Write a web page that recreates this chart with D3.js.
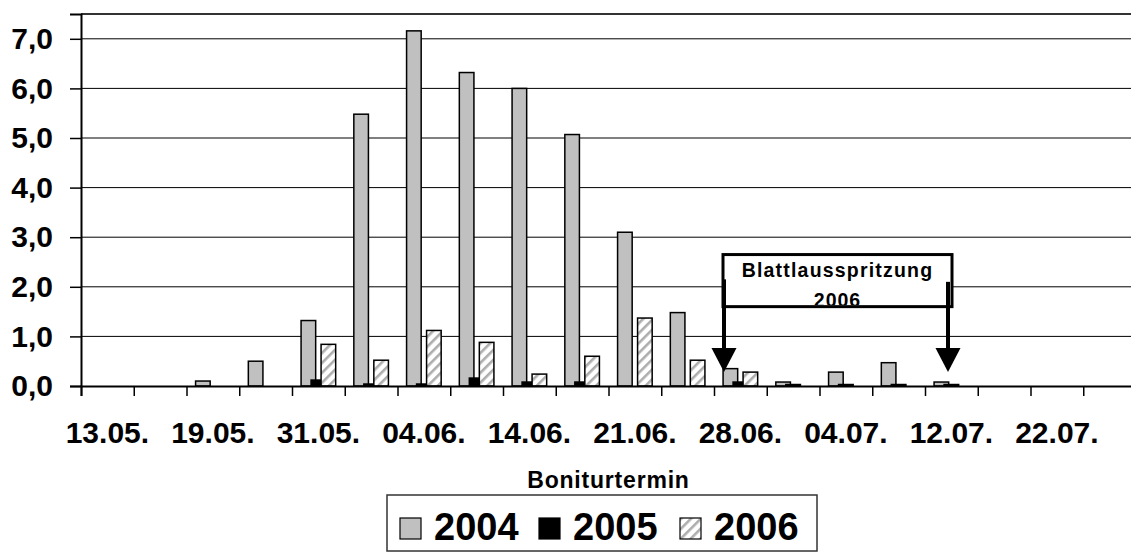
<!DOCTYPE html>
<html>
<head>
<meta charset="utf-8">
<script src="https://cdn.jsdelivr.net/npm/d3@7"></script>
<style>
  body { margin: 0; background: #fff; }
  svg { display: block; font-family: "Liberation Sans", Arial, sans-serif; font-weight: bold; }
</style>
</head>
<body>
<svg width="1131" height="552"></svg>
<script>
// Boniturtermine (only every second one is labelled on the axis)
const tickLabels = ["13.05.", "", "19.05.", "", "31.05.", "", "04.06.", "", "14.06.", "",
  "21.06.", "", "28.06.", "", "04.07.", "", "12.07.", "", "22.07.", ""];
const series = ["2004", "2005", "2006"];
const values2004 = [0, 0, 0.1, 0.5, 1.32, 5.48, 7.16, 6.32, 6.0, 5.07, 3.1, 1.48, 0.35, 0.08, 0.28, 0.47, 0.08, 0, 0, 0];
const values2005 = [0, 0, 0, 0, 0.12, 0.04, 0.04, 0.16, 0.08, 0.08, 0, 0, 0.08, 0.03, 0.03, 0.03, 0.03, 0, 0, 0];
const values2006 = [0, 0, 0, 0, 0.84, 0.52, 1.12, 0.88, 0.24, 0.6, 1.37, 0.52, 0.28, 0, 0, 0, 0, 0, 0, 0];
const yTicks = [0, 1, 2, 3, 4, 5, 6, 7];

const svg = d3.select("svg");
const plotLeft = 81, plotRight = 1136, plotTop = 14, plotBottom = 386;

// hatch pattern for 2006
const defs = svg.append("defs");
const pat = defs.append("pattern")
  .attr("id", "hatch")
  .attr("patternUnits", "userSpaceOnUse")
  .attr("width", 7).attr("height", 7)
  .attr("patternTransform", "rotate(45)");
pat.append("rect").attr("width", 7).attr("height", 7).attr("fill", "#fff");
pat.append("rect").attr("width", 2.6).attr("height", 7).attr("fill", "#adadad");

const fills = { "2004": "#c0c0c0", "2005": "#000", "2006": "url(#hatch)" };
const data = [values2004, values2005, values2006];

const x = d3.scaleBand().domain(d3.range(tickLabels.length)).range([plotLeft, plotRight]).padding(0);
const xEdges = d3.scaleLinear().domain([0, tickLabels.length]).range([plotLeft, plotRight]);
const inner = d3.scalePoint().domain(series).range([-10, 10]);
const y = d3.scaleLinear().domain([0, 7.5]).range([plotBottom, plotTop]);
const barW = 14.6;

// gridlines
svg.append("g")
  .selectAll("line")
  .data(yTicks.filter(d => d > 0))
  .join("line")
  .attr("x1", plotLeft).attr("x2", plotRight)
  .attr("y1", d => y(d)).attr("y2", d => y(d))
  .attr("stroke", "#000").attr("stroke-width", 1);

// plot top border
svg.append("line")
  .attr("x1", plotLeft).attr("x2", plotRight).attr("y1", plotTop).attr("y2", plotTop)
  .attr("stroke", "#333").attr("stroke-width", 2);

// bars
series.forEach((s, si) => {
  svg.append("g")
    .selectAll("rect")
    .data(data[si].map((v, i) => ({ i, v })).filter(d => d.v > 0))
    .join("rect")
    .attr("x", d => x(d.i) + x.bandwidth() / 2 + inner(s) - barW / 2)
    .attr("width", barW)
    .attr("y", d => y(d.v))
    .attr("height", d => y(0) - y(d.v))
    .attr("fill", fills[s])
    .attr("stroke", "#000")
    .attr("stroke-width", 1.5);
});

// y axis
const yAxis = svg.append("g")
  .attr("transform", `translate(${plotLeft},0)`)
  .call(d3.axisLeft(y).tickValues(yTicks).tickSize(11).tickPadding(17)
    .tickFormat(d => d.toFixed(1).replace(".", ",")));
yAxis.select(".domain").attr("stroke", "#000").attr("stroke-width", 2);
yAxis.selectAll(".tick line").attr("stroke", "#000").attr("stroke-width", 1.5);
yAxis.selectAll("text").attr("font-size", 30).attr("font-weight", "bold")
  .attr("font-family", "Liberation Sans, Arial, sans-serif").attr("fill", "#000");

// x axis ticks at category edges
const xTickAxis = svg.append("g")
  .attr("transform", `translate(0,${plotBottom})`)
  .call(d3.axisBottom(xEdges).tickValues(d3.range(tickLabels.length + 1)).tickSize(10).tickFormat(""));
xTickAxis.select(".domain").attr("stroke", "#000").attr("stroke-width", 2);
xTickAxis.selectAll(".tick line").attr("stroke", "#000").attr("stroke-width", 1.5);

// x axis labels
const xLabAxis = svg.append("g")
  .attr("transform", `translate(0,${plotBottom})`)
  .call(d3.axisBottom(x).tickSize(0).tickPadding(36).tickFormat(i => tickLabels[i]));
xLabAxis.select(".domain").remove();
xLabAxis.selectAll("text").attr("font-size", 30).attr("font-weight", "bold")
  .attr("font-family", "Liberation Sans, Arial, sans-serif").attr("fill", "#000");

// axis title
svg.append("text")
  .attr("x", (plotLeft + plotRight) / 2).attr("y", 488)
  .attr("text-anchor", "middle")
  .attr("font-size", 23)
  .attr("letter-spacing", 0.8)
  .text("Boniturtermin");

// annotation: Blattlausspritzung 2006
const ann = svg.append("g");
const boxL = 723, boxR = 952, boxT = y(2.65), boxB = y(1.6);
defs.append("clipPath").attr("id", "boxclip")
  .append("rect").attr("x", boxL).attr("y", boxT).attr("width", boxR - boxL).attr("height", boxB - boxT - 1.5);
ann.append("rect")
  .attr("x", boxL).attr("y", boxT).attr("width", boxR - boxL).attr("height", boxB - boxT)
  .attr("fill", "#fff");
const annText = ann.append("g").attr("clip-path", "url(#boxclip)");
annText.append("text")
  .attr("x", (boxL + boxR) / 2).attr("y", boxT + 22)
  .attr("text-anchor", "middle").attr("font-size", 19.5).attr("letter-spacing", 1.2)
  .text("Blattlausspritzung");
annText.append("text")
  .attr("x", (boxL + boxR) / 2).attr("y", boxT + 52)
  .attr("text-anchor", "middle").attr("font-size", 19.5).attr("letter-spacing", 1)
  .text("2006");
ann.append("rect")
  .attr("x", boxL).attr("y", boxT).attr("width", boxR - boxL).attr("height", boxB - boxT)
  .attr("fill", "none").attr("stroke", "#000").attr("stroke-width", 3);

const arrows = [
  { x: x(12) + 10, y0: y(2.15) },
  { x: x(16) + 23, y0: y(2.1) }
];
const tipY = y(0.28), headH = 24, headW = 25;
arrows.forEach(a => {
  ann.append("line")
    .attr("x1", a.x).attr("x2", a.x).attr("y1", a.y0).attr("y2", tipY - headH + 2)
    .attr("stroke", "#000").attr("stroke-width", 4);
  ann.append("path")
    .attr("d", `M${a.x - headW / 2},${tipY - headH} L${a.x + headW / 2},${tipY - headH} L${a.x},${tipY} Z`)
    .attr("fill", "#000");
});

// legend
const lg = svg.append("g");
lg.append("rect")
  .attr("x", 387).attr("y", 495).attr("width", 430).attr("height", 56)
  .attr("fill", "#fff").attr("stroke", "#333").attr("stroke-width", 1.5);
const legendX = [400, 539, 680];
series.forEach((s, i) => {
  lg.append("rect")
    .attr("x", legendX[i]).attr("y", 518).attr("width", 21).attr("height", 21)
    .attr("fill", fills[s]).attr("stroke", "#000").attr("stroke-width", 1.2);
  lg.append("text")
    .attr("x", legendX[i] + 34).attr("y", 540)
    .attr("font-size", 38)
    .text(s);
});
</script>
</body>
</html>
